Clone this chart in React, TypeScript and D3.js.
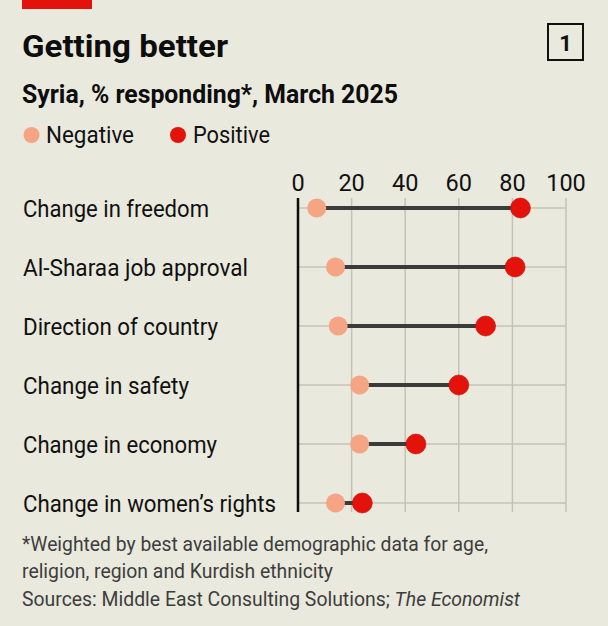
import * as d3 from 'd3';

const categories = [
  'Change in freedom',
  'Al-Sharaa job approval',
  'Direction of country',
  'Change in safety',
  'Change in economy',
  'Change in women\u2019s rights',
];
const negativeValues = [7, 14, 15, 23, 23, 14];
const positiveValues = [83, 81, 70, 60, 44, 24];
const tickValues = [0, 20, 40, 60, 80, 100];

const labelWidths = [186, 225, 195, 166, 194, 253];

const W = 608;
const H = 626;
const BG = '#e9e9dd';
const NEG = '#f5a583';
const POS = '#e3120b';
const FONT = 'Roboto, "Noto Sans", sans-serif';

export default function App() {
  const x = d3.scaleLinear().domain([0, 100]).range([298, 566]);
  const y = d3.scalePoint<string>().domain(categories).range([208, 503]);
  const gridTop = 198;
  const gridBottom = 512;

  return (
    <svg width={W} height={H} viewBox={`0 0 ${W} ${H}`} style={{ position: 'absolute', left: 0, top: 0, display: 'block' }} fontFamily={FONT}>
      <rect width={W} height={H} fill={BG} />
      <rect x={22} y={0} width={70} height={9} fill={POS} />

      <text x={22} y={57} fontSize={31} fontWeight={700} fill="#0d0d0d" textLength={206} lengthAdjust="spacingAndGlyphs">Getting better</text>
      <rect x={548} y={24} width={35} height={36} fill="none" stroke="#111" strokeWidth={2} />
      <text x={565.5} y={51} fontSize={22} fontWeight={700} textAnchor="middle" fill="#111">1</text>

      <text x={22} y={103} fontSize={25} fontWeight={700} fill="#0d0d0d" textLength={376} lengthAdjust="spacingAndGlyphs">Syria, % responding*, March 2025</text>

      <circle cx={31.5} cy={135} r={8} fill={NEG} />
      <text x={46} y={143} fontSize={24} fill="#111" textLength={88} lengthAdjust="spacingAndGlyphs">Negative</text>
      <circle cx={178} cy={135} r={8} fill={POS} />
      <text x={193} y={143} fontSize={24} fill="#111" textLength={77} lengthAdjust="spacingAndGlyphs">Positive</text>

      {tickValues.map((t) => (
        <g key={t}>
          {t > 0 && <line x1={x(t)} x2={x(t)} y1={gridTop} y2={gridBottom} stroke="#c3c3b7" strokeWidth={1.5} />}
          <text x={x(t)} y={191} fontSize={23.5} textAnchor="middle" fill="#111">{t}</text>
        </g>
      ))}

      {categories.map((c, i) => (
        <g key={c}>
          <line x1={x(0)} x2={x(100)} y1={y(c)} y2={y(c)} stroke="#c3c3b7" strokeWidth={1.5} />
          <text x={23} y={(y(c) ?? 0) + 9} fontSize={23.5} fill="#111" textLength={labelWidths[i]} lengthAdjust="spacingAndGlyphs">{c}</text>
        </g>
      ))}

      <line x1={x(0)} x2={x(0)} y1={gridTop} y2={gridBottom} stroke="#0d0d0d" strokeWidth={2.5} />

      {categories.map((c, i) => (
        <g key={c}>
          <line x1={x(negativeValues[i])} x2={x(positiveValues[i])} y1={y(c)} y2={y(c)} stroke="#3b3b3b" strokeWidth={4} />
          <circle cx={x(negativeValues[i])} cy={y(c)} r={9.5} fill={NEG} />
          <circle cx={x(positiveValues[i])} cy={y(c)} r={10} fill={POS} stroke="#c80a06" strokeWidth={0.6} />
        </g>
      ))}

      <g fontSize={20} fill="#3d3d3d">
        <text x={22} y={551} textLength={466} lengthAdjust="spacingAndGlyphs">*Weighted by best available demographic data for age,</text>
        <text x={22} y={578} textLength={311} lengthAdjust="spacingAndGlyphs">religion, region and Kurdish ethnicity</text>
        <text x={22} y={606} textLength={498} lengthAdjust="spacingAndGlyphs">
          Sources: Middle East Consulting Solutions; <tspan fontStyle="italic">The Economist</tspan>
        </text>
      </g>
    </svg>
  );
}
